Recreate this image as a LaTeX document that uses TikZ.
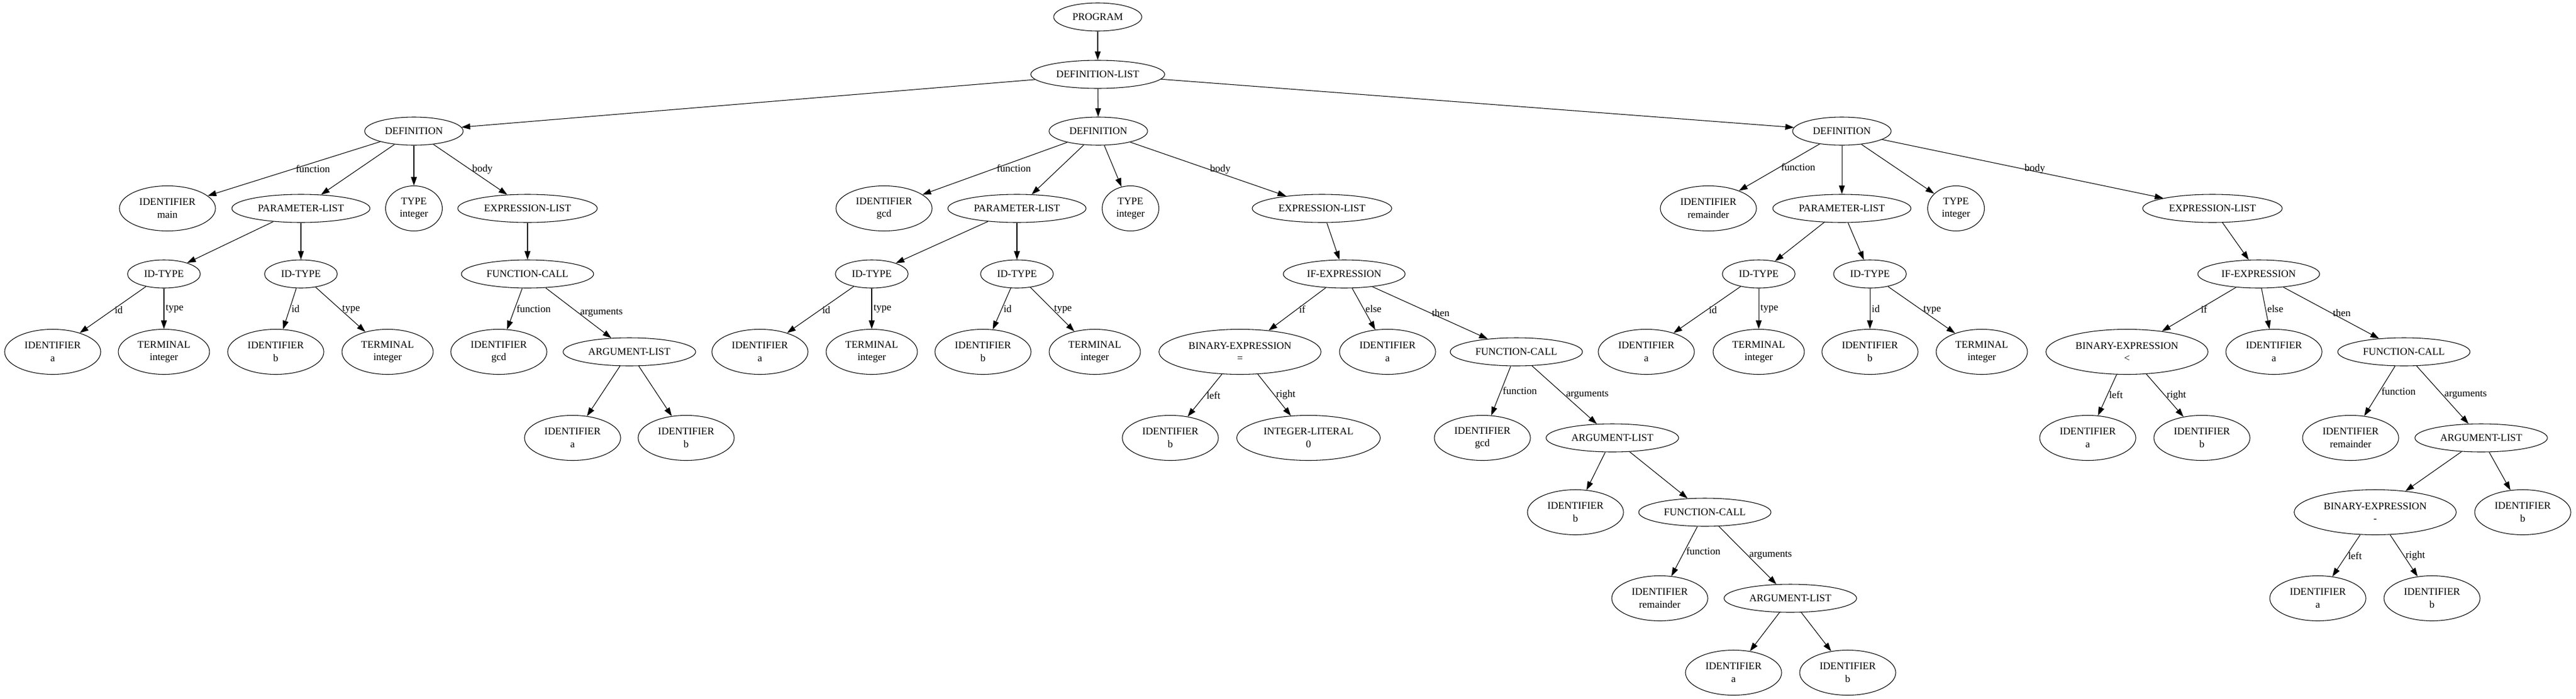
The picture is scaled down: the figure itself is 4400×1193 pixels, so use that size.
\documentclass[tikz,border=0pt]{standalone}
\usepackage{fontspec}
\setmainfont{Liberation Serif}
\usetikzlibrary{shapes.geometric}
\usetikzlibrary{arrows.meta}

\begin{document}
\begin{tikzpicture}[x=0.75pt, y=-0.75pt, >={Triangle[length=11pt,width=7.5pt]}, line width=0.8pt,
  font=\fontsize{13.1}{16.1}\selectfont,
  ast/.style={ellipse, draw, align=center, inner xsep=7.5pt, inner ysep=3pt, minimum height=36pt},
  ast2/.style={ast, minimum height=57.75pt},
  lbl/.style={anchor=west, inner sep=2pt}]
  \useasboundingbox (0,0) rectangle (4400,1193);

  \node[ast]  (prog)  at (1875,29)   {PROGRAM};
  \node[ast]  (dl)    at (1875,127)  {DEFINITION-LIST};

  % main
  \node[ast]  (d1)    at (707,224)   {DEFINITION};
  \node[ast2] (d1id)  at (286,356)   {IDENTIFIER\\main};
  \node[ast]  (d1pl)  at (514,356)   {PARAMETER-LIST};
  \node[ast2] (d1ty)  at (707,356)   {TYPE\\integer};
  \node[ast]  (d1el)  at (901,356)   {EXPRESSION-LIST};
  \node[ast]  (d1it1) at (280,468)   {ID-TYPE};
  \node[ast]  (d1it2) at (514,468)   {ID-TYPE};
  \node[ast]  (d1fc)  at (901,468)   {FUNCTION-CALL};
  \node[ast2] (d1a)   at (90,601)    {IDENTIFIER\\a};
  \node[ast2] (d1ta)  at (280,601)   {TERMINAL\\integer};
  \node[ast2] (d1b)   at (471,601)   {IDENTIFIER\\b};
  \node[ast2] (d1tb)  at (662,601)   {TERMINAL\\integer};
  \node[ast2] (d1fn)  at (852,601)   {IDENTIFIER\\gcd};
  \node[ast]  (d1al)  at (1075,601)  {ARGUMENT-LIST};
  \node[ast2] (d1aa)  at (978,748)   {IDENTIFIER\\a};
  \node[ast2] (d1ab)  at (1172,748)  {IDENTIFIER\\b};

  % gcd
  \node[ast]  (d2)    at (1876,224)  {DEFINITION};
  \node[ast2] (d2id)  at (1510,356)  {IDENTIFIER\\gcd};
  \node[ast]  (d2pl)  at (1737,356)  {PARAMETER-LIST};
  \node[ast2] (d2ty)  at (1931,356)  {TYPE\\integer};
  \node[ast]  (d2el)  at (2258,356)  {EXPRESSION-LIST};
  \node[ast]  (d2it1) at (1489,468)  {ID-TYPE};
  \node[ast]  (d2it2) at (1737,468)  {ID-TYPE};
  \node[ast]  (d2if)  at (2296,468)  {IF-EXPRESSION};
  \node[ast2] (d2a)   at (1298,601)  {IDENTIFIER\\a};
  \node[ast2] (d2ta)  at (1489,601)  {TERMINAL\\integer};
  \node[ast2] (d2b)   at (1679,601)  {IDENTIFIER\\b};
  \node[ast2] (d2tb)  at (1870,601)  {TERMINAL\\integer};
  \node[ast2] (d2be)  at (2118,601)  {BINARY-EXPRESSION\\=};
  \node[ast2] (d2ea)  at (2370,601)  {IDENTIFIER\\a};
  \node[ast]  (d2fc)  at (2590,601)  {FUNCTION-CALL};
  \node[ast2] (d2bl)  at (1999,748)  {IDENTIFIER\\b};
  \node[ast2] (d2br)  at (2235,748)  {INTEGER-LITERAL\\0};
  \node[ast2] (d2fn)  at (2532,748)  {IDENTIFIER\\gcd};
  \node[ast]  (d2al)  at (2754,748)  {ARGUMENT-LIST};
  \node[ast2] (d2x)   at (2691,875)  {IDENTIFIER\\b};
  \node[ast]  (d2fc2) at (2912,875)  {FUNCTION-CALL};
  \node[ast2] (d2fn2) at (2835,1022) {IDENTIFIER\\remainder};
  \node[ast]  (d2al2) at (3058,1022) {ARGUMENT-LIST};
  \node[ast2] (d2y)   at (2961,1149) {IDENTIFIER\\a};
  \node[ast2] (d2z)   at (3156,1149) {IDENTIFIER\\b};

  % remainder
  \node[ast]  (d3)    at (3146,224)  {DEFINITION};
  \node[ast2] (d3id)  at (2918,356)  {IDENTIFIER\\remainder};
  \node[ast]  (d3pl)  at (3146,356)  {PARAMETER-LIST};
  \node[ast2] (d3ty)  at (3341,356)  {TYPE\\integer};
  \node[ast]  (d3el)  at (3779,356)  {EXPRESSION-LIST};
  \node[ast]  (d3it1) at (3004,468)  {ID-TYPE};
  \node[ast]  (d3it2) at (3194,468)  {ID-TYPE};
  \node[ast]  (d3if)  at (3858,468)  {IF-EXPRESSION};
  \node[ast2] (d3a)   at (2812,601)  {IDENTIFIER\\a};
  \node[ast2] (d3ta)  at (3004,601)  {TERMINAL\\integer};
  \node[ast2] (d3b)   at (3194,601)  {IDENTIFIER\\b};
  \node[ast2] (d3tb)  at (3385,601)  {TERMINAL\\integer};
  \node[ast2] (d3be)  at (3633,601)  {BINARY-EXPRESSION\\<};
  \node[ast2] (d3ea)  at (3884,601)  {IDENTIFIER\\a};
  \node[ast]  (d3fc)  at (4106,601)  {FUNCTION-CALL};
  \node[ast2] (d3bl)  at (3566,748)  {IDENTIFIER\\a};
  \node[ast2] (d3br)  at (3761,748)  {IDENTIFIER\\b};
  \node[ast2] (d3fn)  at (4015,748)  {IDENTIFIER\\remainder};
  \node[ast]  (d3al)  at (4238,748)  {ARGUMENT-LIST};
  \node[ast2] (d3be2) at (4057,875)  {BINARY-EXPRESSION\\-};
  \node[ast2] (d3x)   at (4309,875)  {IDENTIFIER\\b};
  \node[ast2] (d3y)   at (3959,1022) {IDENTIFIER\\a};
  \node[ast2] (d3z)   at (4154,1022) {IDENTIFIER\\b};

  \path[->]
        (prog)  edge (dl)
        (dl)    edge (d1) edge (d2) edge (d3)
        (d1)    edge node [lbl] {function} (d1id)
                edge (d1pl)
                edge (d1ty)
                edge node [lbl] {body} (d1el)
        (d1pl)  edge (d1it1) edge (d1it2)
        (d1el)  edge (d1fc)
        (d1it1) edge node [lbl] {id} (d1a)
                edge node [lbl] {type} (d1ta)
        (d1it2) edge node [lbl] {id} (d1b)
                edge node [lbl] {type} (d1tb)
        (d1fc)  edge node [lbl] {function} (d1fn)
                edge node [lbl] {arguments} (d1al)
        (d1al)  edge (d1aa) edge (d1ab)
        ;
  \path[->]
        (d2)    edge node [lbl] {function} (d2id)
                edge (d2pl)
                edge (d2ty)
                edge node [lbl] {body} (d2el)
        (d2pl)  edge (d2it1) edge (d2it2)
        (d2el)  edge (d2if)
        (d2it1) edge node [lbl] {id} (d2a)
                edge node [lbl] {type} (d2ta)
        (d2it2) edge node [lbl] {id} (d2b)
                edge node [lbl] {type} (d2tb)
        (d2if)  edge node [lbl] {if} (d2be)
                edge node [lbl] {else} (d2ea)
                edge node [lbl] {then} (d2fc)
        (d2be)  edge node [lbl] {left} (d2bl)
                edge node [lbl] {right} (d2br)
        (d2fc)  edge node [lbl] {function} (d2fn)
                edge node [lbl] {arguments} (d2al)
        (d2al)  edge (d2x) edge (d2fc2)
        (d2fc2) edge node [lbl] {function} (d2fn2)
                edge node [lbl] {arguments} (d2al2)
        (d2al2) edge (d2y) edge (d2z)
        ;
  \path[->]
        (d3)    edge node [lbl] {function} (d3id)
                edge (d3pl)
                edge (d3ty)
                edge node [lbl] {body} (d3el)
        (d3pl)  edge (d3it1) edge (d3it2)
        (d3el)  edge (d3if)
        (d3it1) edge node [lbl] {id} (d3a)
                edge node [lbl] {type} (d3ta)
        (d3it2) edge node [lbl] {id} (d3b)
                edge node [lbl] {type} (d3tb)
        (d3if)  edge node [lbl] {if} (d3be)
                edge node [lbl] {else} (d3ea)
                edge node [lbl] {then} (d3fc)
        (d3be)  edge node [lbl] {left} (d3bl)
                edge node [lbl] {right} (d3br)
        (d3fc)  edge node [lbl] {function} (d3fn)
                edge node [lbl] {arguments} (d3al)
        (d3al)  edge (d3be2) edge (d3x)
        (d3be2) edge node [lbl] {left} (d3y)
                edge node [lbl] {right} (d3z)
        ;
\end{tikzpicture}
\end{document}
